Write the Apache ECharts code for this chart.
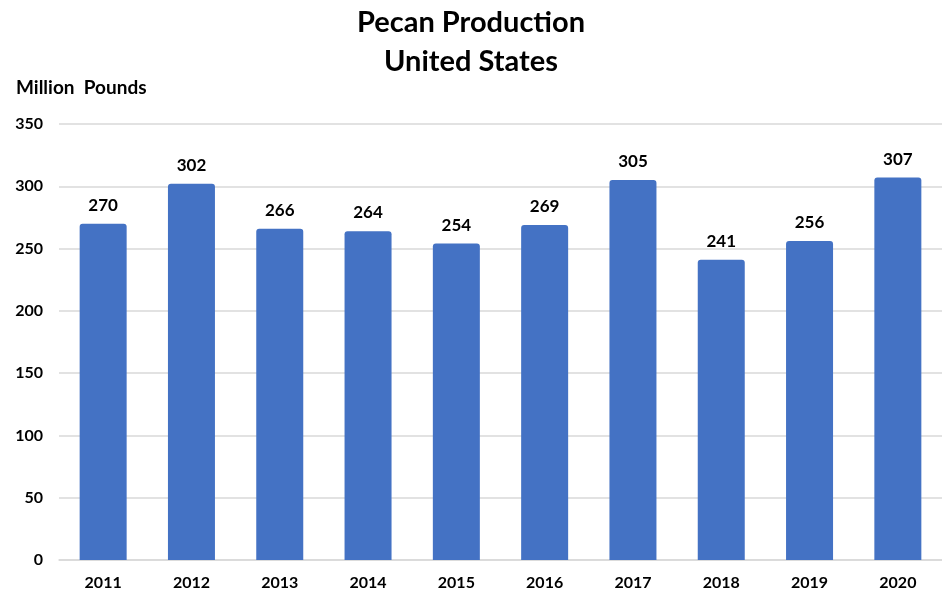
<!DOCTYPE html>
<html>
<head>
<meta charset="utf-8">
<script src="https://cdn.jsdelivr.net/npm/echarts@6/dist/echarts.min.js"></script>
<style>html,body{margin:0;padding:0;background:#fff}#c{width:942px;height:594px}</style>
</head>
<body>
<div id="c"></div>
<script>
const years = ['2011','2012','2013','2014','2015','2016','2017','2018','2019','2020'];
const production = [270, 302, 266, 264, 254, 269, 305, 241, 256, 307];
const yTicks = {min: 0, max: 350, interval: 50};
const titleLines = ['Pecan Production', 'United States'];
const yName = 'Million  Pounds';

const chart = echarts.init(document.getElementById('c'));
const FONT = 'Lato';
chart.setOption({
  animation: false,
  textStyle: {fontFamily: FONT},
  title: {
    text: titleLines.join('\n'),
    left: 'center', top: -2,
    textStyle: {fontFamily: FONT, fontSize: 29, fontWeight: 'bold', color: '#000', lineHeight: 39}
  },
  grid: {left: 59, width: 888, top: 124, bottom: 34},
  xAxis: {
    type: 'category', data: years,
    axisLine: {lineStyle: {color: '#d9d9d9', width: 1.5}},
    axisTick: {show: false},
    axisLabel: {fontFamily: FONT, fontSize: 16, fontWeight: 'bold', color: '#000', margin: 15}
  },
  yAxis: {
    type: 'value', min: yTicks.min, max: yTicks.max, interval: yTicks.interval,
    name: yName, nameLocation: 'end', nameGap: 27,
    nameTextStyle: {fontFamily: FONT, fontSize: 19, fontWeight: 'bold', color: '#000', align: 'left', padding: [0,0,0,-43]},
    axisLine: {show: false}, axisTick: {show: false},
    axisLabel: {fontFamily: FONT, fontSize: 16, fontWeight: 'bold', color: '#000', margin: 16},
    splitLine: {lineStyle: {color: '#d9d9d9', width: 1.5}}
  },
  series: [{
    type: 'bar', data: production, barWidth: 47,
    itemStyle: {color: '#4472C4', borderRadius: [3,3,0,0]},
    label: {show: true, position: 'top', distance: 10, fontFamily: FONT, fontSize: 17, fontWeight: 'bold', color: '#000'}
  }]
});
</script>
</body>
</html>
